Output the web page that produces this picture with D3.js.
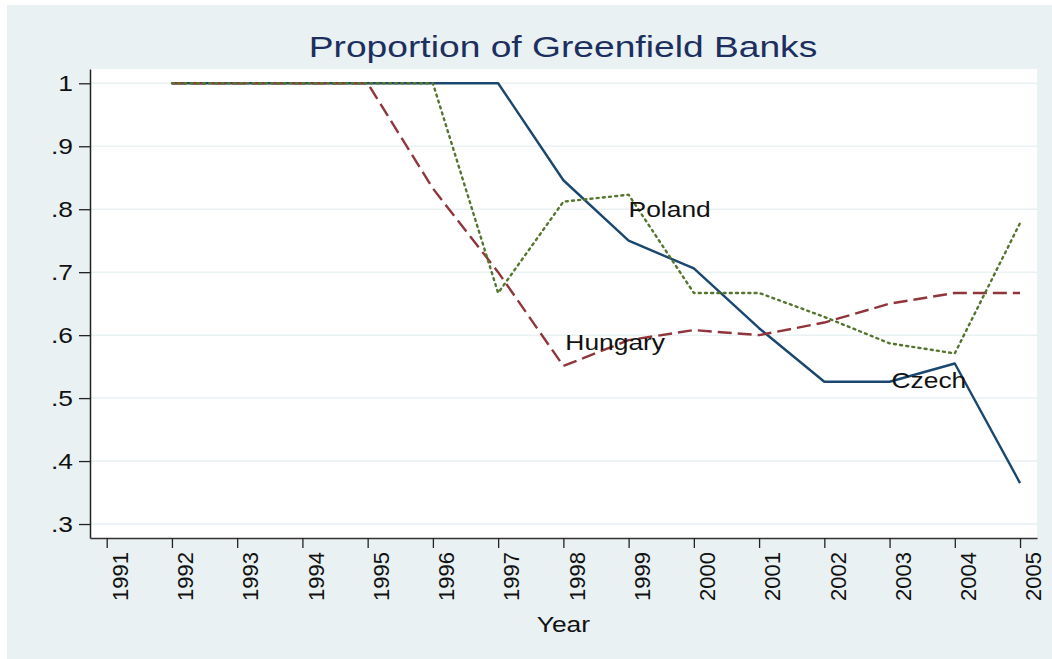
<!DOCTYPE html>
<html>
<head>
<meta charset="utf-8">
<script src="https://cdn.jsdelivr.net/npm/d3@7"></script>
<style>
  body { margin: 0; background: #fff; }
  text { font-family: 'Liberation Sans', Arial, sans-serif; }
</style>
</head>
<body>
<script>
// data
const years = [1992, 1993, 1994, 1995, 1996, 1997, 1998, 1999, 2000, 2001, 2002, 2003, 2004, 2005];
const czech   = [1, 1, 1, 1, 1, 1, 0.846, 0.75, 0.706, 0.611, 0.526, 0.526, 0.555, 0.365];
const hungary = [1, 1, 1, 1, 0.833, 0.70, 0.551, 0.592, 0.608, 0.60, 0.62, 0.65, 0.667, 0.667];
const poland  = [1, 1, 1, 1, 1, 0.667, 0.812, 0.823, 0.667, 0.667, 0.629, 0.587, 0.571, 0.778];
const xTicks = [1991, 1992, 1993, 1994, 1995, 1996, 1997, 1998, 1999, 2000, 2001, 2002, 2003, 2004, 2005];
const yTicks = [0.3, 0.4, 0.5, 0.6, 0.7, 0.8, 0.9, 1];
const yTickLabels = ['.3', '.4', '.5', '.6', '.7', '.8', '.9', '1'];
// label anchors (year, value) for the country names
const labelNames = ['Poland', 'Hungary', 'Czech'];
const labelYears = [1999, 1998.03, 2003.03];
const labelValues = [0.80, 0.588, 0.529];

const W = 1052, H = 659;
const margin = { top: 69, right: 15, bottom: 121, left: 90 };
const width = W - margin.left - margin.right;
const height = H - margin.top - margin.bottom;
const stretch = 1.2; // the original's type is set a little wide

const svg = d3.select('body').append('svg')
    .attr('width', W)
    .attr('height', H);

svg.append('rect')
    .attr('x', 7).attr('y', 5)
    .attr('width', W - 7).attr('height', H - 5)
    .attr('fill', '#e9f1f3');

svg.append('text')
    .attr('text-anchor', 'middle')
    .attr('transform', 'translate(563,57) scale(1.24,1)')
    .attr('font-size', 30)
    .attr('fill', '#1c2f5f')
    .text('Proportion of Greenfield Banks');

const g = svg.append('g')
    .attr('transform', `translate(${margin.left},${margin.top})`);

g.append('rect')
    .attr('width', width).attr('height', height)
    .attr('fill', '#fff');

const x = d3.scaleLinear().domain([1990.744, 2005.26]).range([0, width]);
const y = d3.scaleLinear().domain([0.2778, 1.0227]).range([height, 0]);

// gridlines
g.selectAll('.grid')
    .data(yTicks)
    .join('line')
    .attr('class', 'grid')
    .attr('x1', 0).attr('x2', width)
    .attr('y1', (d) => y(d)).attr('y2', (d) => y(d))
    .attr('stroke', '#e9f1f3')
    .attr('stroke-width', 1.5);

// axes
const yAxis = g.append('g')
    .call(d3.axisLeft(y).tickValues(yTicks)
        .tickFormat((d, i) => yTickLabels[i])
        .tickSize(11).tickSizeOuter(0));
yAxis.select('.domain').attr('stroke', '#222').attr('stroke-width', 1.5);
yAxis.selectAll('.tick line').attr('stroke', '#222').attr('stroke-width', 1.3);
yAxis.selectAll('.tick text')
    .attr('font-family', null)
    .attr('font-size', 22)
    .attr('fill', '#111')
    .attr('x', 0)
    .attr('transform', `translate(-17,0) scale(${stretch},1)`);

const xAxis = g.append('g')
    .attr('transform', `translate(0,${height})`)
    .call(d3.axisBottom(x).tickValues(xTicks)
        .tickFormat(d3.format('d'))
        .tickSize(10).tickSizeOuter(0));
xAxis.select('.domain').attr('stroke', '#333').attr('stroke-width', 1.5);
xAxis.selectAll('.tick line').attr('stroke', '#222').attr('stroke-width', 1.3);
xAxis.selectAll('.tick text')
    .attr('font-family', null)
    .attr('font-size', 22)
    .attr('fill', '#111')
    .attr('text-anchor', 'end')
    .attr('dy', '0.35em')
    .attr('transform', 'translate(0,14) rotate(-90)');

g.append('text')
    .attr('text-anchor', 'middle')
    .attr('transform', `translate(${x(1998.0)},${height + 94}) scale(${stretch},1)`)
    .attr('font-size', 22)
    .attr('fill', '#111')
    .text('Year');

// series lines, czech underneath like the original
const line = d3.line()
    .x((d, i) => x(years[i]))
    .y((d) => y(d));

const series = [
    { values: czech, color: '#1a476f', dash: null, cap: 'butt', w: 2.4 },
    { values: hungary, color: '#90353b', dash: '14,6', cap: 'butt', w: 2.4 },
    { values: poland, color: '#55752f', dash: '2,4.2', cap: 'round', w: 2.4 },
];

series.forEach((s) => {
    g.append('path')
        .datum(s.values)
        .attr('fill', 'none')
        .attr('stroke', s.color)
        .attr('stroke-width', s.w)
        .attr('stroke-dasharray', s.dash)
        .attr('stroke-linecap', s.cap)
        .attr('stroke-linejoin', 'round')
        .attr('d', line);
});

// country labels
labelNames.forEach((name, i) => {
    g.append('text')
        .attr('transform', `translate(${x(labelYears[i])},${y(labelValues[i])}) scale(${stretch},1)`)
        .attr('dy', '0.35em')
        .attr('font-size', 22)
        .attr('fill', '#111')
        .text(name);
});
</script>
</body>
</html>
